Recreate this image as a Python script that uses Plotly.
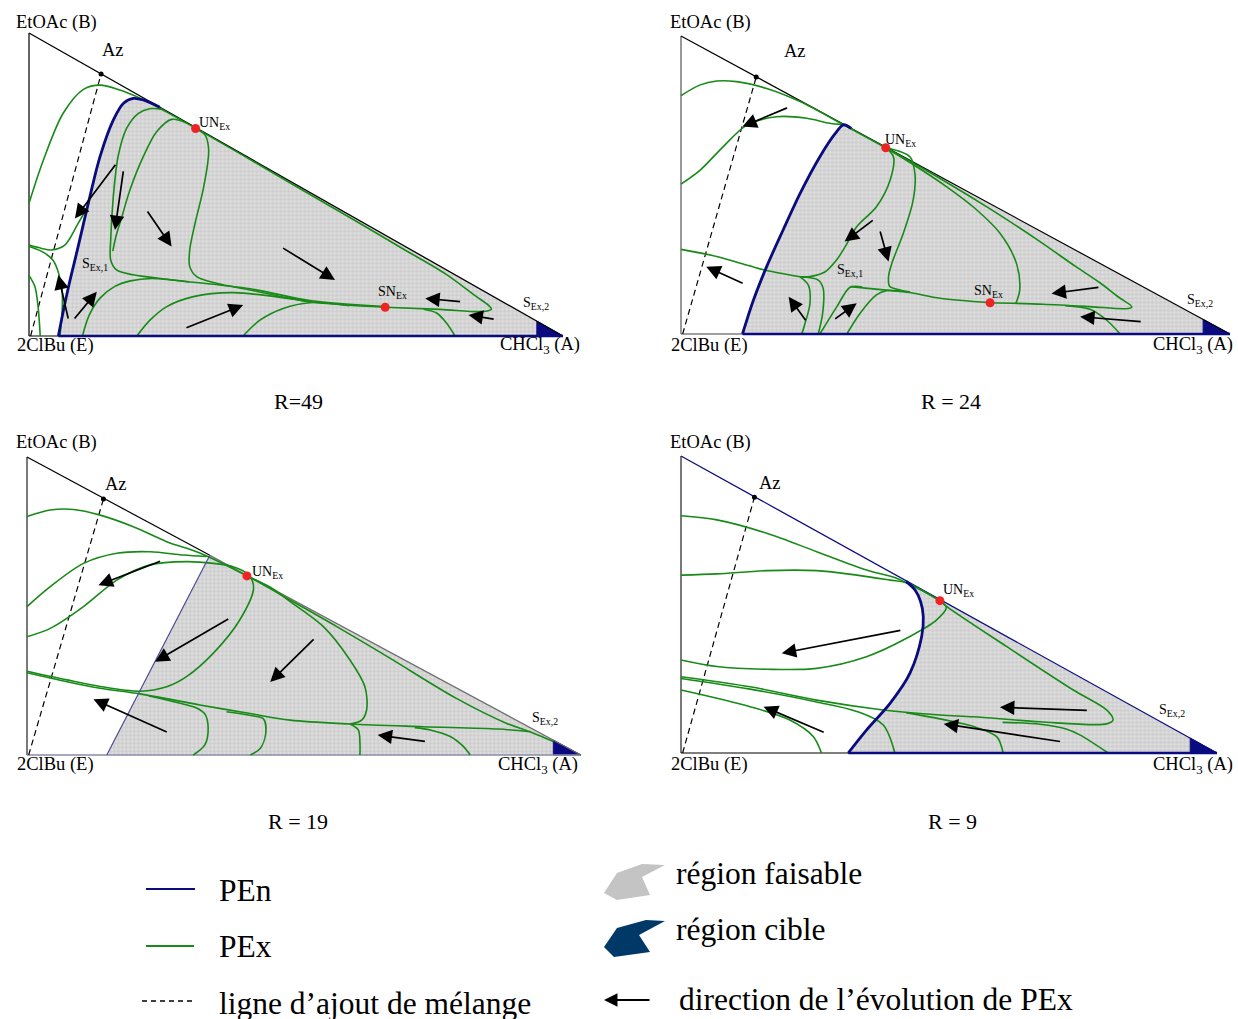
import plotly.graph_objects as go

FIG_W, FIG_H = 1238, 1019
PAD = 0.012

GREEN = "#178a17"
NAVY = "#0b0b80"
RED = "#ee2424"
FONT = "Liberation Serif, Times New Roman, serif"

# ------------------------------------------------------------------
# DATA  (u = mole fraction CHCl3 (A), v = mole fraction EtOAc (B); E at u=v=0)
# ------------------------------------------------------------------
# ---------- R = 49 ----------
R49_AZ = [0.135, 0.865]
R49_NODES_U = [0.312, 0.667]          # UN_Ex, SN_Ex
R49_NODES_V = [0.685, 0.095]
R49_TARGET_U = 0.951
R49_PEN = [(0.055, 0.0), (0.064, 0.08), (0.075, 0.17), (0.09, 0.28), (0.114, 0.46),
           (0.133, 0.592), (0.158, 0.713), (0.177, 0.768), (0.195, 0.784),
           (0.214, 0.779), (0.245, 0.755)]
R49_PEX = [
    [(0, 0.438), (0.027, 0.581), (0.064, 0.735), (0.102, 0.814), (0.133, 0.828),
     (0.170, 0.812), (0.208, 0.785), (0.258, 0.739), (0.312, 0.686)],
    [(0.312, 0.686), (0.40, 0.597), (0.49, 0.504), (0.60, 0.392), (0.70, 0.288),
     (0.78, 0.205), (0.838, 0.13), (0.86, 0.102), (0.866, 0.089), (0.852, 0.081),
     (0.77, 0.088), (0.667, 0.095)],
    [(0.312, 0.685), (0.330, 0.663), (0.336, 0.625), (0.336, 0.592), (0.326, 0.482),
     (0.311, 0.372), (0.301, 0.284), (0.301, 0.229), (0.314, 0.196), (0.351, 0.174),
     (0.414, 0.152), (0.526, 0.113), (0.667, 0.095)],
    [(0.25, 0.748), (0.226, 0.75), (0.205, 0.735), (0.183, 0.686), (0.167, 0.594),
     (0.158, 0.462), (0.153, 0.317), (0.153, 0.251), (0.164, 0.218), (0.195, 0.202),
     (0.270, 0.185), (0.414, 0.156), (0.526, 0.117), (0.667, 0.097)],
    [(0.295, 0.703), (0.267, 0.715), (0.239, 0.674), (0.214, 0.592), (0.189, 0.482),
     (0.174, 0.394), (0.163, 0.33), (0.157, 0.28)],
    [(0.100, 0.0), (0.113, 0.07), (0.133, 0.125), (0.16, 0.163), (0.19, 0.182),
     (0.23, 0.19), (0.30, 0.178)],
    [(0.202, 0.0), (0.227, 0.053), (0.258, 0.097), (0.308, 0.130), (0.383, 0.143),
     (0.526, 0.113)],
    [(0.401, 0.0), (0.433, 0.053), (0.476, 0.091), (0.526, 0.110), (0.60, 0.10)],
    [(0.798, 0.0), (0.782, 0.042), (0.764, 0.075), (0.739, 0.088)],
    [(0, 0.300), (0.024, 0.289), (0.042, 0.284), (0.067, 0.300), (0.092, 0.372),
     (0.108, 0.421), (0.112, 0.44)],
    [(0, 0.296), (0.028, 0.275), (0.045, 0.25), (0.055, 0.21), (0.062, 0.15),
     (0.062, 0.08), (0.058, 0.0)],
    [(0, 0.2), (0.011, 0.163), (0.017, 0.097), (0.021, 0.0)],
]
R49_ARROWS = [((0.164, 0.570), (0.086, 0.388)), ((0.177, 0.548), (0.161, 0.350)),
              ((0.220, 0.416), (0.267, 0.295)), ((0.473, 0.293), (0.573, 0.185)),
              ((0.292, 0.025), (0.401, 0.102)), ((0.083, 0.053), (0.127, 0.146)),
              ((0.074, 0.053), (0.055, 0.201)), ((0.810, 0.113), (0.742, 0.124)),
              ((0.873, 0.055), (0.823, 0.069))]

# ---------- R = 24 ----------
R24_AZ = [0.137, 0.862]
R24_NODES_U = [0.373, 0.563]
R24_NODES_V = [0.625, 0.105]
R24_TARGET_U = 0.951
R24_PEN = [(0.112, 0.0), (0.132, 0.114), (0.156, 0.226), (0.186, 0.349), (0.217, 0.472),
           (0.253, 0.595), (0.281, 0.673), (0.296, 0.702), (0.31, 0.69)]
R24_PEX = [
    [(0, 0.800), (0.035, 0.836), (0.065, 0.849), (0.101, 0.847), (0.156, 0.824),
     (0.217, 0.780), (0.296, 0.702), (0.373, 0.625)],
    [(0, 0.503), (0.035, 0.550), (0.077, 0.629), (0.120, 0.701), (0.174, 0.729),
     (0.229, 0.724), (0.271, 0.707), (0.296, 0.702)],
    [(0, 0.284), (0.065, 0.260), (0.126, 0.228), (0.156, 0.213), (0.217, 0.192)],
    [(0.373, 0.625), (0.387, 0.595), (0.381, 0.517), (0.356, 0.427), (0.320, 0.360),
     (0.299, 0.293), (0.284, 0.250), (0.262, 0.208), (0.235, 0.193), (0.217, 0.192)],
    [(0.217, 0.192), (0.232, 0.164), (0.235, 0.103), (0.226, 0.036), (0.220, 0.0)],
    [(0.217, 0.192), (0.250, 0.181), (0.259, 0.153), (0.258, 0.069), (0.250, 0.0)],
    [(0.253, 0.0), (0.284, 0.092), (0.308, 0.157), (0.330, 0.158)],
    [(0.302, 0.0), (0.326, 0.069), (0.356, 0.131), (0.374, 0.145), (0.40, 0.143)],
    [(0.308, 0.159), (0.369, 0.148), (0.417, 0.139), (0.472, 0.120), (0.563, 0.105)],
    [(0.373, 0.625), (0.417, 0.595), (0.426, 0.539), (0.423, 0.450), (0.405, 0.338),
     (0.384, 0.237), (0.378, 0.192), (0.38, 0.16), (0.40, 0.147), (0.417, 0.141)],
    [(0.373, 0.625), (0.42, 0.572), (0.484, 0.494), (0.532, 0.427), (0.581, 0.338),
     (0.611, 0.237), (0.617, 0.148), (0.610, 0.103)],
    [(0.373, 0.625), (0.472, 0.522), (0.563, 0.42), (0.654, 0.31), (0.72, 0.225),
     (0.763, 0.172), (0.80, 0.12), (0.818, 0.098), (0.821, 0.09), (0.81, 0.085),
     (0.745, 0.092), (0.66, 0.100), (0.563, 0.105)],
    [(0.800, 0.0), (0.775, 0.047), (0.745, 0.083), (0.70, 0.095)],
]
R24_ARROWS = [((0.196, 0.761), (0.112, 0.696)), ((0.115, 0.168), (0.046, 0.226)),
              ((0.352, 0.385), (0.298, 0.310)), ((0.362, 0.349), (0.378, 0.243)),
              ((0.229, 0.041), (0.196, 0.125)), ((0.278, 0.047), (0.320, 0.103)),
              ((0.763, 0.157), (0.675, 0.136)), ((0.840, 0.041), (0.727, 0.058))]

# ---------- R = 19 ----------
R19_AZ = [0.138, 0.859]
R19_NODES_U = [0.397]
R19_NODES_V = [0.601]
R19_TARGET_U = 0.950
R19_PEN = [(0.144, 0.0), (0.330, 0.670)]
R19_PEX = [
    [(0, 0.800), (0.042, 0.822), (0.084, 0.824), (0.132, 0.805), (0.192, 0.766),
     (0.252, 0.716), (0.312, 0.678), (0.397, 0.601), (0.475, 0.520), (0.560, 0.43),
     (0.655, 0.325), (0.775, 0.19), (0.866, 0.106), (0.908, 0.078), (0.950, 0.045)],
    [(0, 0.498), (0.042, 0.565), (0.102, 0.643), (0.162, 0.677), (0.222, 0.682),
     (0.282, 0.671), (0.324, 0.666)],
    [(0, 0.397), (0.042, 0.425), (0.102, 0.498), (0.162, 0.587), (0.222, 0.638),
     (0.288, 0.649), (0.336, 0.643), (0.372, 0.632), (0.400, 0.605), (0.409, 0.560),
     (0.384, 0.453), (0.336, 0.341), (0.288, 0.263), (0.252, 0.229), (0.204, 0.214),
     (0.132, 0.230), (0.072, 0.252), (0, 0.281)],
    [(0, 0.276), (0.072, 0.246), (0.132, 0.224), (0.204, 0.205), (0.312, 0.168),
     (0.40, 0.14), (0.475, 0.117), (0.583, 0.104), (0.715, 0.095), (0.850, 0.087),
     (0.908, 0.078)],
    [(0.22, 0.198), (0.28, 0.172), (0.306, 0.158), (0.321, 0.138), (0.327, 0.09),
     (0.321, 0.034), (0.300, 0.0)],
    [(0.36, 0.145), (0.409, 0.131), (0.427, 0.121), (0.431, 0.073), (0.421, 0.022),
     (0.403, 0.0)],
    [(0.397, 0.601), (0.44, 0.562), (0.475, 0.515), (0.535, 0.431), (0.583, 0.319),
     (0.610, 0.229), (0.613, 0.151), (0.604, 0.117), (0.583, 0.104)],
    [(0.583, 0.104), (0.598, 0.084), (0.601, 0.039), (0.601, 0.0)],
    [(0.70, 0.092), (0.728, 0.084), (0.764, 0.062), (0.788, 0.028), (0.800, 0.0)],
]
R19_ARROWS = [((0.243, 0.652), (0.129, 0.570)), ((0.366, 0.459), (0.231, 0.313)),
              ((0.520, 0.393), (0.439, 0.245)), ((0.255, 0.075), (0.120, 0.187)),
              ((0.721, 0.045), (0.633, 0.067))]

# ---------- R = 9 ----------
R9_AZ = [0.137, 0.861]
R9_NODES_U = [0.483]
R9_NODES_V = [0.513]
R9_TARGET_U = 0.950
R9_PEN = [(0.312, 0.0), (0.346, 0.077), (0.390, 0.167), (0.427, 0.268), (0.449, 0.392),
          (0.452, 0.46), (0.447, 0.51), (0.437, 0.548), (0.42, 0.578)]
R9_PEX = [
    [(0, 0.799), (0.067, 0.785), (0.160, 0.740), (0.253, 0.678), (0.346, 0.616),
     (0.40, 0.59), (0.44, 0.556), (0.483, 0.513)],
    [(0, 0.599), (0.067, 0.603), (0.160, 0.614), (0.253, 0.614), (0.328, 0.599),
     (0.390, 0.582), (0.42, 0.573), (0.483, 0.513)],
    [(0.483, 0.513), (0.495, 0.49), (0.477, 0.448), (0.427, 0.392), (0.346, 0.324),
     (0.253, 0.285), (0.160, 0.282), (0.067, 0.291), (0, 0.313)],
    [(0, 0.257), (0.129, 0.223), (0.253, 0.178), (0.377, 0.145), (0.483, 0.128),
     (0.546, 0.122), (0.670, 0.105), (0.794, 0.098), (0.806, 0.111), (0.794, 0.145),
     (0.732, 0.212), (0.608, 0.358), (0.496, 0.493), (0.483, 0.513)],
    [(0, 0.251), (0.129, 0.215), (0.253, 0.172), (0.328, 0.14), (0.377, 0.095),
     (0.399, 0.0)],
    [(0, 0.212), (0.129, 0.156), (0.203, 0.111), (0.247, 0.055), (0.262, 0.0)],
    [(0.42, 0.136), (0.483, 0.115), (0.546, 0.089), (0.589, 0.055), (0.601, 0.0)],
    [(0.60, 0.103), (0.670, 0.097), (0.72, 0.08), (0.744, 0.061), (0.797, 0.0)],
]
R9_ARROWS = [((0.412, 0.414), (0.188, 0.336)), ((0.269, 0.068), (0.154, 0.156)),
             ((0.760, 0.143), (0.595, 0.154)), ((0.710, 0.038), (0.490, 0.098))]

TITLES = ["R=49", "R = 24", "R = 19", "R = 9"]

# ------------------------------------------------------------------
# LAYOUT (pixel frame of each triangle: E corner x/y, A corner x, B corner y)
# ------------------------------------------------------------------
PANELS = [
    dict(ex=29, ey=336, ax=563, by=33, title_xy=(298, 402)),
    dict(ex=681, ey=334, ax=1230, by=36, title_xy=(951, 402)),
    dict(ex=27, ey=755, ax=581, by=457, title_xy=(298, 821)),
    dict(ex=681, ey=753, ax=1217, by=456, title_xy=(952, 821)),
]
DATA = [
    (R49_AZ, R49_NODES_U, R49_NODES_V, R49_TARGET_U, R49_PEN, R49_PEX, R49_ARROWS),
    (R24_AZ, R24_NODES_U, R24_NODES_V, R24_TARGET_U, R24_PEN, R24_PEX, R24_ARROWS),
    (R19_AZ, R19_NODES_U, R19_NODES_V, R19_TARGET_U, R19_PEN, R19_PEX, R19_ARROWS),
    (R9_AZ, R9_NODES_U, R9_NODES_V, R9_TARGET_U, R9_PEN, R9_PEX, R9_ARROWS),
]

LBL = 18.5
# labels: text, px centre x, px centre y, anchor, size
LABELS = [
    [("EtOAc (B)", 56, 23, "center", LBL), ("Az", 113, 50, "center", LBL),
     ("UN<sub>Ex</sub>", 197, 123, "left", 14), ("S<sub>Ex,1</sub>", 80, 264, "left", 14),
     ("SN<sub>Ex</sub>", 376, 292, "left", 14), ("S<sub>Ex,2</sub>", 521, 304, "left", 14),
     ("2ClBu (E)", 55, 345, "center", LBL), ("CHCl<sub>3</sub> (A)", 540, 346, "center", LBL)],
    [("EtOAc (B)", 710, 23, "center", LBL), ("Az", 795, 51, "center", LBL),
     ("UN<sub>Ex</sub>", 883, 140, "left", 14), ("S<sub>Ex,1</sub>", 835, 270, "left", 14),
     ("SN<sub>Ex</sub>", 972, 291, "left", 14), ("S<sub>Ex,2</sub>", 1185, 301, "left", 14),
     ("2ClBu (E)", 709, 345, "center", LBL), ("CHCl<sub>3</sub> (A)", 1193, 346, "center", LBL)],
    [("EtOAc (B)", 56, 442, "center", LBL), ("Az", 116, 484, "center", LBL),
     ("UN<sub>Ex</sub>", 250, 572, "left", 14), ("S<sub>Ex,2</sub>", 530, 718, "left", 14),
     ("2ClBu (E)", 55, 764, "center", LBL), ("CHCl<sub>3</sub> (A)", 538, 765, "center", LBL)],
    [("EtOAc (B)", 710, 442, "center", LBL), ("Az", 770, 483, "center", LBL),
     ("UN<sub>Ex</sub>", 941, 590, "left", 14), ("S<sub>Ex,2</sub>", 1157, 710, "left", 14),
     ("2ClBu (E)", 709, 764, "center", LBL), ("CHCl<sub>3</sub> (A)", 1193, 765, "center", LBL)],
]

# frame styles per panel: (left edge colour,width), hyp segments, base colour
FRAME = [
    dict(left=("#000000", 1.2), hyp=[(0.0, 1.0, "#000000", 1.3)], base=("#000000", 1.2)),
    dict(left=("#808080", 1.6), hyp=[(0.0, 1.0, "#000000", 1.2)], base=("#808080", 1.4)),
    dict(left=("#7a7a7a", 2.0), hyp=[(0.0, 0.33, "#000000", 1.2), (0.33, 1.0, "#6e6e6e", 1.3)],
         base=("#8a8aa8", 1.6)),
    dict(left=("#7a7a7a", 2.0), hyp=[(0.0, 1.0, NAVY, 1.3)], base=("#000000", 1.2)),
]


def paper(px, py):
    return px / FIG_W, 1 - py / FIG_H


fig = go.Figure()
layout_axes = {}
annotations = []


def line(pts, sid, color, width, dash=None, shape="spline", smoothing=0.9):
    fig.add_trace(go.Scatter(
        x=[p[0] for p in pts], y=[p[1] for p in pts], mode="lines",
        line=dict(color=color, width=width, dash=dash, shape=shape, smoothing=smoothing),
        xaxis="x" + sid, yaxis="y" + sid, hoverinfo="skip", showlegend=False))


for i, (pan, dat) in enumerate(zip(PANELS, DATA)):
    sid = "" if i == 0 else str(i + 1)
    W = pan["ax"] - pan["ex"]
    H = pan["ey"] - pan["by"]
    x0 = (pan["ex"] - PAD * W) / FIG_W
    x1 = (pan["ax"] + PAD * W) / FIG_W
    y0 = 1 - (pan["ey"] + PAD * H) / FIG_H
    y1 = 1 - (pan["by"] - PAD * H) / FIG_H
    layout_axes["xaxis" + sid] = dict(domain=[x0, x1], range=[-PAD, 1 + PAD], visible=False,
                                      anchor="y" + sid, fixedrange=True)
    layout_axes["yaxis" + sid] = dict(domain=[y0, y1], range=[-PAD, 1 + PAD], visible=False,
                                      anchor="x" + sid, fixedrange=True)

    az, nu, nv, tu, pen, pex, arrows = dat

    # feasible region (gray)
    poly = list(pen) + [(tu, 1 - tu), (tu, 0.0), (pen[0][0], 0.0)]
    fig.add_trace(go.Scatter(
        x=[p[0] for p in poly], y=[p[1] for p in poly], mode="lines", fill="toself",
        fillcolor="#d8d8d8",
        fillpattern=dict(shape="+", size=4, solidity=0.4, fgcolor="#a8a8a8", bgcolor="#e0e0e0"),
        line=dict(width=0, color="rgba(0,0,0,0)"),
        xaxis="x" + sid, yaxis="y" + sid, hoverinfo="skip", showlegend=False))
    # target region (navy)
    fig.add_trace(go.Scatter(
        x=[tu, 1.0, tu, tu], y=[0.0, 0.0, 1 - tu, 0.0], mode="lines", fill="toself",
        fillcolor=NAVY, line=dict(width=1, color=NAVY),
        xaxis="x" + sid, yaxis="y" + sid, hoverinfo="skip", showlegend=False))

    fr = FRAME[i]
    line([(0, 0), (0, 1)], sid, fr["left"][0], fr["left"][1], shape="linear")
    line([(0, 0), (1, 0)], sid, fr["base"][0], fr["base"][1], shape="linear")
    for (a, b, c, w) in fr["hyp"]:
        line([(a, 1 - a), (b, 1 - b)], sid, c, w, shape="linear")

    # mixing (azeotrope addition) line
    line([(0.003, 0.0), (az[0], az[1])], sid, "#000000", 1.2, dash="6px,4px", shape="linear")

    # PEx curves
    for c in pex:
        line(c, sid, GREEN, 1.6)

    # PEn
    if i == 2:
        line(pen, sid, "#4a4a9a", 1.2, shape="linear")
    else:
        line(pen, sid, NAVY, 2.8)
        line([(pen[0][0], 0.0), (1.0, 0.0)], sid, NAVY, 2.6, shape="linear")

    # nodes
    fig.add_trace(go.Scatter(x=[az[0]], y=[az[1]], mode="markers",
                             marker=dict(color="black", size=5),
                             xaxis="x" + sid, yaxis="y" + sid, hoverinfo="skip", showlegend=False))
    fig.add_trace(go.Scatter(x=nu, y=nv, mode="markers",
                             marker=dict(color=RED, size=9),
                             xaxis="x" + sid, yaxis="y" + sid, hoverinfo="skip", showlegend=False))

    # arrows
    for (tail, head) in arrows:
        annotations.append(dict(
            x=head[0], y=head[1], ax=tail[0], ay=tail[1],
            xref="x" + sid, yref="y" + sid, axref="x" + sid, ayref="y" + sid,
            showarrow=True, arrowhead=2, arrowsize=1.7, arrowwidth=1.7,
            arrowcolor="black", text=""))

    # labels
    for (t, px, py, anc, sz) in LABELS[i]:
        xp, yp = paper(px, py)
        annotations.append(dict(x=xp, y=yp, xref="paper", yref="paper", text=t,
                                showarrow=False, xanchor=anc, yanchor="middle",
                                font=dict(family=FONT, size=sz, color="black")))
    tx, ty = paper(*pan["title_xy"])
    annotations.append(dict(x=tx, y=ty, xref="paper", yref="paper", text=TITLES[i],
                            showarrow=False, xanchor="center", yanchor="middle",
                            font=dict(family=FONT, size=22, color="black")))

# ------------------------------------------------------------------
# legend (drawn manually)
# ------------------------------------------------------------------
shapes = []


def seg(x0, y0, x1, y1, color, width, dash="solid"):
    a, b = paper(x0, y0)
    c, d = paper(x1, y1)
    shapes.append(dict(type="line", xref="paper", yref="paper", x0=a, y0=b, x1=c, y1=d,
                       line=dict(color=color, width=width, dash=dash)))


def poly_path(pts, color):
    s = ""
    for k, (px, py) in enumerate(pts):
        a, b = paper(px, py)
        s += ("M" if k == 0 else "L") + f"{a:.5f},{b:.5f} "
    shapes.append(dict(type="path", xref="paper", yref="paper", path=s + "Z",
                       fillcolor=color, line=dict(width=0)))


seg(146, 889, 195, 889, NAVY, 2)
seg(146, 946, 194, 946, GREEN, 2)
seg(142, 1001, 195, 1001, "#000000", 1.5, dash="5px,4px")
poly_path([(604, 893), (617, 873), (642, 864), (665, 865), (642, 877), (650, 895), (617, 900)],
          "#c4c4c4")
poly_path([(604, 947), (617, 928), (646, 920), (665, 921), (639, 935), (650, 952), (614, 957)],
          "#003868")
hx, hy = paper(604, 1000)
annotations.append(dict(x=hx, y=hy, xref="paper", yref="paper", ax=47, ay=0,
                        showarrow=True, arrowhead=2, arrowsize=1.5, arrowwidth=1.8,
                        arrowcolor="black", text=""))

LEGEND_TEXT = [("PEn", 217, 890), ("PEx", 217, 946), ("ligne d’ajout de mélange", 217, 1003),
               ("région faisable", 674, 873), ("région cible", 674, 929),
               ("direction de l’évolution de PEx", 677, 999)]
for (t, px, py) in LEGEND_TEXT:
    xp, yp = paper(px, py)
    annotations.append(dict(x=xp, y=yp, xref="paper", yref="paper", text=t, showarrow=False,
                            xanchor="left", yanchor="middle",
                            font=dict(family=FONT, size=31.5, color="black")))

fig.update_layout(
    width=FIG_W, height=FIG_H, margin=dict(l=0, r=0, t=0, b=0),
    paper_bgcolor="white", plot_bgcolor="white", showlegend=False,
    annotations=annotations, shapes=shapes, **layout_axes)

fig.write_html("out.html", config={"displayModeBar": False, "staticPlot": True},
               post_script="document.body.style.margin='0px';document.body.style.overflow='hidden';")
